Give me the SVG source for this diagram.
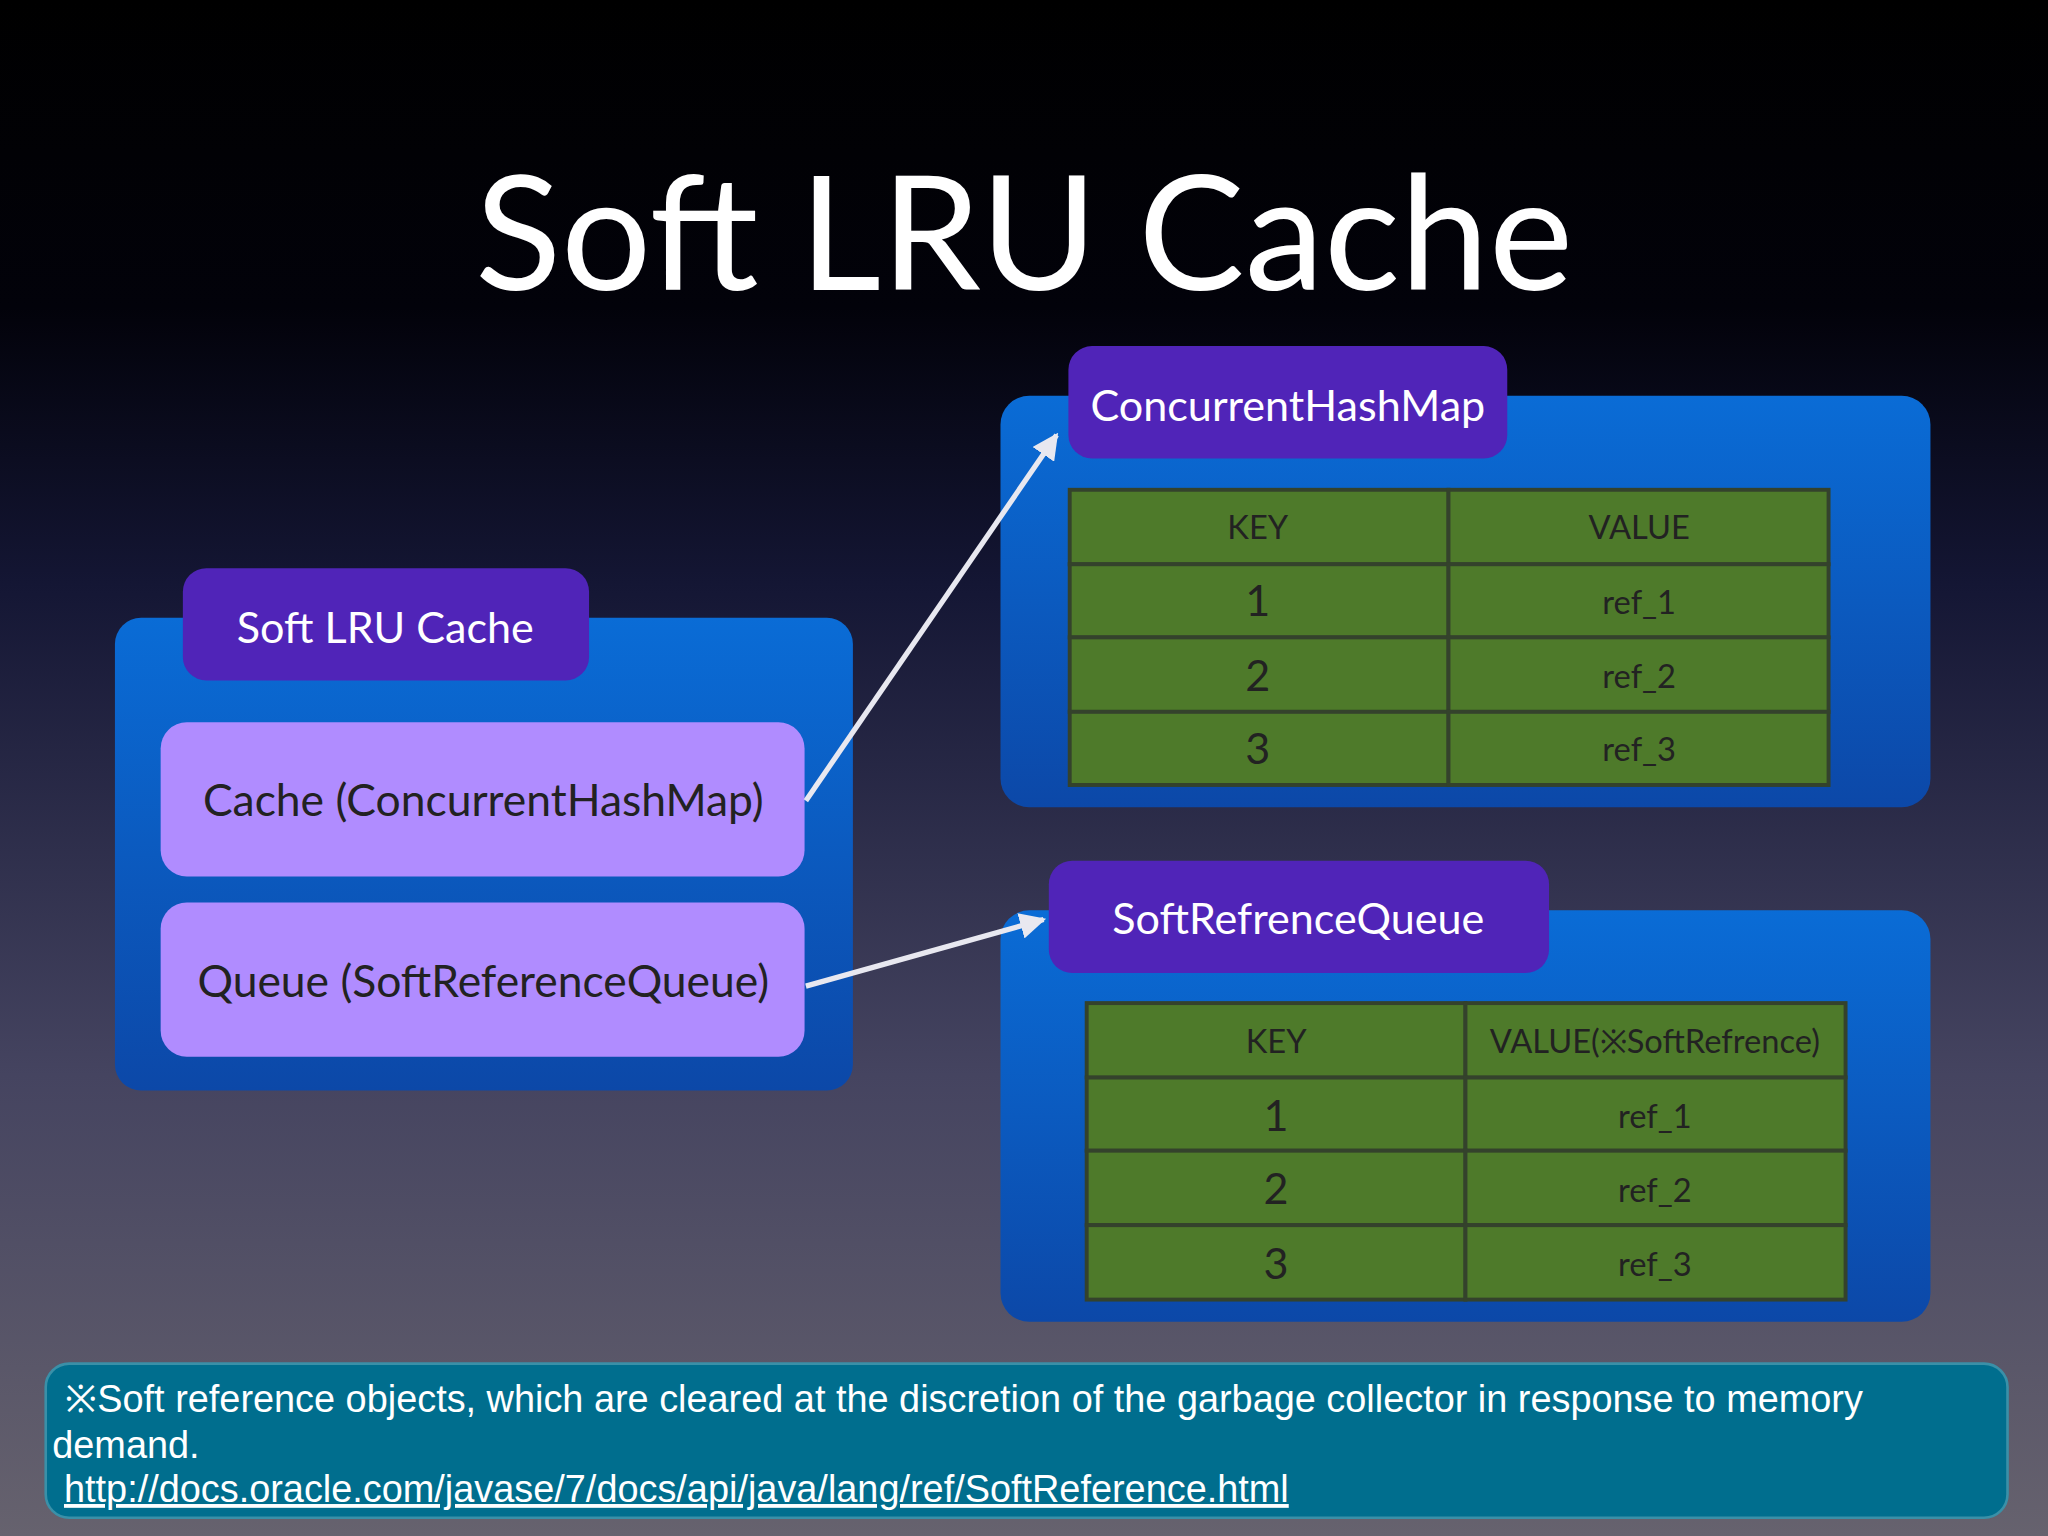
<svg xmlns="http://www.w3.org/2000/svg" width="2048" height="1536" viewBox="0 0 2048 1536">
<defs>
<linearGradient id="bg" x1="0" y1="0" x2="0" y2="1"><stop offset="0" stop-color="#000"/><stop offset="0.2" stop-color="#02020a"/><stop offset="0.38" stop-color="#141634"/><stop offset="0.7" stop-color="#454460"/><stop offset="1" stop-color="#66626e"/></linearGradient>
<linearGradient id="blue" x1="0" y1="0" x2="0" y2="1"><stop offset="0" stop-color="#0a6cd6"/><stop offset="1" stop-color="#0c48a8"/></linearGradient>
<marker id="ah" viewBox="0 0 10 10" refX="9" refY="5" markerWidth="5" markerHeight="5" orient="auto"><path d="M0,0 L10,5 L0,10 z" fill="#e8e8f0"/></marker>
<style>
.cont{fill:url(#blue)}
.tab{fill:#5024b8}
.tabt{font-family:Lato,"Open Sans",sans-serif;font-size:33px;fill:#fff;text-anchor:middle}
.box{fill:#b08cff}
.boxt{font-family:Lato,"Open Sans",sans-serif;font-size:34px;fill:#222;text-anchor:middle}
.cell{fill:#4e7a2a;stroke:#34422c;stroke-width:3}
.ct{font-family:Lato,"Open Sans",sans-serif;font-size:25px;fill:#222;text-anchor:middle}
.cn{font-family:Lato,"Open Sans",sans-serif;font-size:33px;fill:#222;text-anchor:middle}
.conn{stroke:#e8e8f0;stroke-width:4;fill:none;marker-end:url(#ah)}
.ft{font-family:"Liberation Sans",Arial,sans-serif;font-size:29px;fill:#fff}
</style>
</defs>
<rect width="2048" height="1536" fill="url(#bg)"/>
<g transform="scale(1.306122)">
<text x="784" y="222" font-family="Lato,'Open Sans',sans-serif" font-size="122" fill="#fff" text-anchor="middle">Soft LRU Cache</text>
<g id="softlru">
<rect class="cont" x="88" y="473" width="565" height="362" rx="20"/>
<rect class="tab" x="140" y="435" width="311" height="86" rx="18"/>
<text class="tabt" x="295" y="492">Soft LRU Cache</text>
</g>
<g id="cache"><rect class="box" x="123" y="553" width="493" height="118" rx="20"/><text class="boxt" x="370" y="625">Cache (ConcurrentHashMap)</text></g>
<g id="queue"><rect class="box" x="123" y="691" width="493" height="118" rx="20"/><text class="boxt" x="370" y="763">Queue (SoftReferenceQueue)</text></g>
<g id="chm">
<rect class="cont" x="766" y="303" width="712" height="315" rx="22"/>
<rect class="tab" x="818" y="265" width="336" height="86" rx="18"/>
<text class="tabt" x="986" y="322">ConcurrentHashMap</text>
<g>
<rect class="cell" x="819" y="375" width="290" height="57"/><rect class="cell" x="1109" y="375" width="291" height="57"/>
<rect class="cell" x="819" y="432" width="290" height="56"/><rect class="cell" x="1109" y="432" width="291" height="56"/>
<rect class="cell" x="819" y="488" width="290" height="57"/><rect class="cell" x="1109" y="488" width="291" height="57"/>
<rect class="cell" x="819" y="545" width="290" height="56"/><rect class="cell" x="1109" y="545" width="291" height="56"/>
</g>
<text class="ct" x="963" y="413">KEY</text><text class="ct" x="1255" y="413">VALUE</text>
<text class="cn" x="963" y="472">1</text><text class="ct" x="1255" y="470">ref_1</text>
<text class="cn" x="963" y="529">2</text><text class="ct" x="1255" y="527">ref_2</text>
<text class="cn" x="963" y="585">3</text><text class="ct" x="1255" y="583">ref_3</text>
</g>
<g id="srq">
<rect class="cont" x="766" y="697" width="712" height="315" rx="22"/>
<rect class="tab" x="803" y="659" width="383" height="86" rx="18"/>
<text class="tabt" x="994" y="715">SoftRefrenceQueue</text>
<g>
<rect class="cell" x="832" y="768" width="290" height="57"/><rect class="cell" x="1122" y="768" width="291" height="57"/>
<rect class="cell" x="832" y="825" width="290" height="56"/><rect class="cell" x="1122" y="825" width="291" height="56"/>
<rect class="cell" x="832" y="881" width="290" height="57"/><rect class="cell" x="1122" y="881" width="291" height="57"/>
<rect class="cell" x="832" y="938" width="290" height="57"/><rect class="cell" x="1122" y="938" width="291" height="57"/>
</g>
<text class="ct" x="977" y="806">KEY</text><text class="ct" x="1267" y="806">VALUE(※SoftRefrence)</text>
<text class="cn" x="977" y="866">1</text><text class="ct" x="1267" y="864">ref_1</text>
<text class="cn" x="977" y="922">2</text><text class="ct" x="1267" y="920">ref_2</text>
<text class="cn" x="977" y="979">3</text><text class="ct" x="1267" y="977">ref_3</text>
</g>
<g id="connectors">
<line class="conn" x1="617" y1="613" x2="809" y2="333"/>
<line class="conn" x1="617" y1="755" x2="799" y2="704"/>
</g>
<g id="footer">
<rect x="35" y="1044" width="1502" height="118" rx="18" fill="#006e8e" stroke="#3a90a8" stroke-width="2"/>
<text class="ft" x="50" y="1081">※Soft reference objects, which are cleared at the discretion of the garbage collector in response to memory</text>
<text class="ft" x="40" y="1116">demand.</text>
<text class="ft" x="49" y="1150" text-decoration="underline" font-size="27">http://docs.oracle.com/javase/7/docs/api/java/lang/ref/SoftReference.html</text>
</g>
</g>
</svg>
